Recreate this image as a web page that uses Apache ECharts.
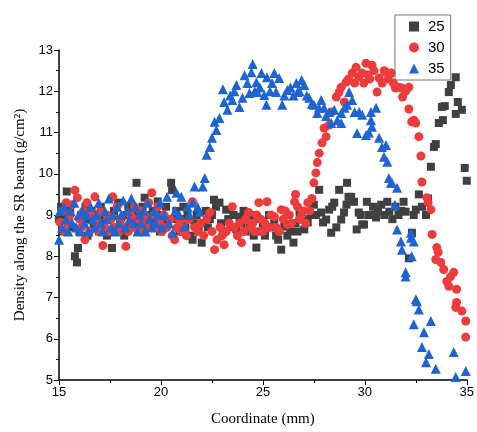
<!DOCTYPE html>
<html>
<head>
<meta charset="utf-8">
<script src="https://cdn.jsdelivr.net/npm/echarts@6/dist/echarts.min.js"></script>
<style>html,body{margin:0;padding:0;background:#fff}#c{width:477px;height:432px}</style>
</head>
<body>
<div id="c"></div>
<script>
var seriesNames = ['25', '30', '35'];
var xTicks = [15, 20, 25, 30, 35];
var yTicks = [5, 6, 7, 8, 9, 10, 11, 12, 13];

var s25 = [
[15.0,8.9],[15.1,9.2],[15.2,8.6],[15.3,9.0],[15.38,9.57],[15.45,8.8],[15.55,9.1],[15.65,8.7],[15.78,8.0],[15.88,7.85],
[15.93,8.2],[16.0,8.6],[16.1,9.0],[16.2,8.8],[16.3,9.2],[16.4,8.5],[16.5,8.9],[16.6,9.1],[16.7,8.7],[16.85,9.0],
[16.95,8.6],[17.05,9.2],[17.15,8.8],[17.25,9.0],[17.35,8.5],[17.45,8.9],[17.6,8.2],[17.7,9.1],[17.8,8.7],[17.9,9.3],
[18.0,8.9],[18.1,8.6],[18.2,8.5],[18.3,9.0],[18.4,9.2],[18.5,8.7],[18.6,9.1],[18.7,8.8],[18.8,9.78],[18.9,9.0],
[19.0,8.6],[19.1,9.2],[19.2,9.42],[19.3,8.8],[19.4,9.0],[19.5,8.7],[19.6,9.1],[19.7,8.9],[19.84,9.33],[19.95,8.6],
[20.05,9.0],[20.15,8.8],[20.25,9.2],[20.35,8.9],[20.5,9.78],[20.55,9.6],[20.65,8.9],[20.75,9.1],[20.9,8.6],[21.0,8.9],
[21.1,9.2],[21.2,8.7],[21.3,9.0],[21.45,8.5],[21.55,8.4],[21.65,8.8],[21.75,9.0],[21.85,8.6],[22.0,8.33],[22.1,8.8],
[22.2,9.1],[22.3,8.7],[22.4,8.9],[22.5,9.0],[22.6,9.37],[22.7,9.2],[22.87,9.3],[22.95,8.8],[23.05,8.6],[23.2,9.13],
[23.3,8.9],[23.45,8.7],[23.55,9.0],[23.7,8.65],[23.85,8.96],[23.95,8.8],[24.05,9.1],[24.15,8.6],[24.25,8.9],[24.35,8.7],
[24.45,9.0],[24.55,8.5],[24.68,8.21],[24.8,8.9],[24.9,8.6],[25.0,8.8],[25.1,8.5],[25.2,8.7],[25.3,9.0],[25.4,8.7],
[25.56,8.89],[25.65,8.5],[25.75,8.4],[25.9,8.16],[26.05,8.72],[26.2,8.5],[26.35,8.6],[26.5,8.33],[26.6,8.8],[26.7,8.6],
[26.8,9.0],[26.9,8.89],[27.03,8.65],[27.1,8.9],[27.2,8.82],[27.37,9.0],[27.5,9.25],[27.6,9.0],[27.76,9.61],[27.86,9.06],
[27.95,8.82],[28.1,8.89],[28.25,9.13],[28.35,8.57],[28.4,9.2],[28.5,9.3],[28.6,8.7],[28.74,9.61],[28.84,8.89],[28.98,9.06],
[29.1,9.25],[29.13,9.78],[29.2,9.44],[29.33,9.44],[29.47,9.32],[29.6,8.65],[29.7,9.06],[29.8,9.0],[29.87,8.77],[29.96,8.77],
[30.1,9.32],[30.2,9.0],[30.3,9.0],[30.4,9.2],[30.55,8.94],[30.65,9.1],[30.8,9.25],[30.95,9.0],[31.1,9.32],[31.2,9.08],
[31.35,8.9],[31.5,9.2],[31.65,9.0],[31.8,9.1],[31.9,9.32],[32.0,9.08],[32.16,7.95],[32.31,8.57],[32.4,9.0],[32.5,9.13],
[32.65,9.5],[32.8,9.2],[33.0,9.0],[33.1,9.4],[33.24,10.17],[33.39,10.65],[33.48,10.72],[33.63,11.23],[33.78,11.62],[33.83,11.30],
[33.92,11.64],[34.12,11.98],[34.22,12.15],[34.46,12.34],[34.46,11.45],[34.56,11.74],[34.76,11.55],[34.9,10.14],[35.0,9.83]
];

var s30 = [
[15.05,8.82],[15.15,9.1],[15.25,8.6],[15.35,9.3],[15.45,8.8],[15.55,9.0],[15.65,9.25],[15.78,9.6],[15.9,9.42],[16.0,8.9],
[16.1,8.7],[16.2,9.1],[16.27,8.4],[16.37,9.3],[16.5,8.6],[16.6,9.0],[16.76,9.44],[16.85,8.8],[16.95,8.6],[17.05,9.1],
[17.15,8.26],[17.25,8.7],[17.35,9.0],[17.45,8.6],[17.55,8.9],[17.64,9.44],[17.75,8.7],[17.85,9.2],[17.95,8.6],[18.05,8.9],
[18.15,8.7],[18.28,8.24],[18.4,8.6],[18.5,9.0],[18.6,8.7],[18.7,9.2],[18.8,8.9],[18.9,8.6],[19.0,9.1],[19.1,8.8],
[19.2,9.0],[19.3,8.7],[19.4,9.3],[19.55,9.54],[19.65,9.0],[19.75,8.7],[19.85,9.2],[19.95,8.8],[20.05,8.6],[20.15,9.0],
[20.3,8.7],[20.45,8.9],[20.55,8.5],[20.67,8.4],[20.8,8.7],[20.9,8.9],[21.0,8.6],[21.1,8.8],[21.25,8.5],[21.4,8.9],
[21.55,9.32],[21.65,8.7],[21.8,8.6],[21.95,8.8],[22.1,8.5],[22.25,8.9],[22.4,9.06],[22.5,8.6],[22.63,8.16],[22.75,8.4],
[22.9,8.7],[23.0,8.5],[23.1,8.28],[23.2,8.6],[23.35,8.8],[23.5,9.2],[23.6,8.7],[23.75,8.5],[23.85,8.8],[23.95,8.33],
[24.05,8.6],[24.15,8.9],[24.3,9.06],[24.4,8.7],[24.5,8.8],[24.6,8.6],[24.7,9.0],[24.8,9.3],[24.9,8.9],[25.0,8.6],
[25.1,8.8],[25.2,9.32],[25.3,8.7],[25.4,9.0],[25.56,8.96],[25.65,8.7],[25.8,8.6],[25.9,9.13],[26.0,8.9],[26.1,9.1],
[26.2,8.77],[26.3,9.0],[26.4,8.8],[26.55,9.32],[26.6,9.5],[26.7,9.2],[26.8,8.9],[26.9,9.0],[27.0,9.1],[27.1,8.8],
[27.2,9.3],[27.3,9.1],[27.4,9.4],[27.5,9.78],[27.6,10.02],[27.67,10.27],[27.76,10.5],[27.9,10.75],[28.0,11.11],[28.1,10.9],
[28.25,11.18],[28.4,11.5],[28.6,11.86],[28.74,11.98],[28.84,12.1],[29.0,11.74],[29.08,12.22],[29.2,12.3],[29.38,12.44],[29.5,12.2],
[29.57,12.58],[29.7,12.35],[29.87,12.44],[29.95,12.2],[30.06,12.68],[30.15,12.4],[30.25,12.3],[30.35,12.63],[30.45,12.5],[30.6,11.98],
[30.7,12.32],[30.85,12.2],[30.95,12.5],[31.04,12.46],[31.15,12.3],[31.3,12.44],[31.4,12.2],[31.5,12.08],[31.65,12.1],[31.8,12.08],
[31.85,11.86],[32.0,12.0],[32.16,12.1],[32.16,11.57],[32.3,11.26],[32.4,11.3],[32.5,11.23],[32.65,10.9],[32.75,10.43],[32.8,9.8],
[33.04,9.42],[33.1,9.3],[33.24,9.13],[33.3,8.53],[33.48,7.92],[33.53,8.21],[33.6,8.1],[33.73,7.85],[33.87,7.68],[34.02,7.39],
[34.12,7.27],[34.2,7.5],[34.36,7.61],[34.5,7.2],[34.5,6.88],[34.46,6.76],[34.76,6.67],[34.95,6.43],[34.95,6.04]
];

var s35 = [
[15.0,8.4],[15.05,9.1],[15.15,8.7],[15.25,9.2],[15.35,8.9],[15.45,8.6],[15.55,9.1],[15.65,8.8],[15.75,9.3],[15.85,8.7],
[15.95,9.0],[16.05,8.6],[16.15,9.1],[16.25,8.8],[16.35,9.0],[16.45,8.6],[16.55,9.2],[16.65,8.9],[16.75,8.7],[16.85,9.0],
[16.95,9.3],[17.05,8.8],[17.15,8.6],[17.25,9.1],[17.35,8.9],[17.45,9.4],[17.55,8.7],[17.65,9.0],[17.75,8.6],[17.85,9.2],
[17.95,8.8],[18.05,9.0],[18.15,9.35],[18.25,8.7],[18.35,9.1],[18.45,8.9],[18.55,9.4],[18.65,8.8],[18.75,9.2],[18.85,8.6],
[18.95,9.0],[19.05,8.8],[19.15,9.1],[19.25,8.6],[19.35,9.3],[19.45,8.9],[19.55,8.7],[19.65,9.1],[19.75,8.8],[19.85,9.0],
[19.95,9.3],[20.05,8.7],[20.15,9.0],[20.3,9.44],[20.4,8.8],[20.58,8.57],[20.7,9.1],[20.77,9.54],[20.9,9.0],[21.0,9.44],
[21.16,8.72],[21.3,9.2],[21.4,9.0],[21.55,9.3],[21.65,9.69],[21.8,9.2],[21.9,9.08],[22.05,9.69],[22.15,9.9],[22.24,10.46],
[22.4,10.65],[22.5,10.87],[22.63,11.26],[22.72,11.06],[22.87,11.35],[23.04,12.05],[23.1,11.74],[23.26,11.55],[23.4,11.9],[23.5,11.79],
[23.6,12.0],[23.7,12.15],[23.85,11.62],[24.0,11.84],[24.1,12.39],[24.24,12.2],[24.34,11.96],[24.44,12.46],[24.5,12.66],[24.6,12.0],
[24.68,12.22],[24.73,11.98],[24.85,12.1],[24.93,12.44],[25.07,11.91],[25.17,11.67],[25.2,12.34],[25.35,12.0],[25.45,12.2],[25.56,12.44],
[25.65,11.98],[25.8,12.32],[25.95,11.67],[26.05,11.9],[26.2,12.03],[26.35,12.1],[26.5,11.9],[26.64,12.2],[26.7,11.98],[26.8,12.0],
[26.9,12.27],[27.03,12.15],[27.15,11.9],[27.27,11.84],[27.4,11.7],[27.5,11.67],[27.67,11.47],[27.75,11.6],[27.86,11.79],[28.0,11.6],
[28.1,11.4],[28.25,11.5],[28.35,11.23],[28.5,11.55],[28.65,11.3],[28.84,11.47],[28.84,11.23],[29.0,11.6],[29.13,11.67],[29.23,11.98],
[29.38,11.79],[29.5,11.5],[29.62,10.99],[29.72,11.5],[29.87,11.43],[30.06,10.94],[30.2,11.0],[30.3,11.3],[30.3,11.5],[30.35,11.14],
[30.55,11.6],[30.7,10.87],[30.84,10.65],[30.94,10.41],[31.04,10.7],[31.1,10.29],[31.18,9.9],[31.28,9.78],[31.33,9.78],[31.48,9.25],
[31.58,9.66],[31.58,8.65],[31.77,8.36],[31.82,8.16],[32.0,7.61],[32.0,7.51],[32.26,8.57],[32.26,8.45],[32.3,8.0],[32.4,8.36],
[32.5,6.96],[32.55,6.91],[32.65,6.71],[32.4,6.35],[32.9,6.16],[33.24,6.43],[32.8,5.8],[33.14,5.63],[33.0,5.43],[33.48,5.27],
[34.36,5.68],[34.46,5.07],[34.95,5.22]
];

var colors = ['#404040', '#ee3b3b', '#1e64d2'];
var chart = echarts.init(document.getElementById('c'), null, {renderer: 'canvas'});
var axisFont = {color: '#000', fontSize: 13, fontFamily: 'Liberation Sans, Arial, sans-serif'};
chart.setOption({
  animation: false,
  backgroundColor: '#fff',
  grid: {left: 59, right: 9, top: 50, bottom: 51, containLabel: false},
  legend: {
    orient: 'vertical',
    left: 395, top: 15,
    itemWidth: 10, itemHeight: 10, itemGap: 6,
    padding: [4, 6, 4, 14],
    borderColor: '#777', borderWidth: 1, borderRadius: 0,
    textStyle: {color: '#000', fontSize: 15, fontFamily: 'Liberation Sans, Arial, sans-serif', padding: [0, 0, 0, 4]},
    data: seriesNames
  },
  xAxis: {
    type: 'value', min: xTicks[0], max: xTicks[xTicks.length - 1], interval: 5,
    name: 'Coordinate (mm)', nameLocation: 'middle', nameGap: 32,
    nameTextStyle: {color: '#000', fontSize: 15, fontFamily: 'Liberation Serif, Times New Roman, serif'},
    axisLine: {lineStyle: {color: '#000', width: 1.5}},
    axisTick: {show: true, length: 5, lineStyle: {color: '#000'}},
    minorTick: {show: true, splitNumber: 2, length: 3, lineStyle: {color: '#000'}},
    splitLine: {show: false},
    axisLabel: Object.assign({margin: 6}, axisFont)
  },
  yAxis: {
    type: 'value', min: yTicks[0], max: yTicks[yTicks.length - 1], interval: 1,
    name: 'Density along the SR beam (g/cm\u00B2)', nameLocation: 'middle', nameGap: 31, nameRotate: 90,
    nameTextStyle: {color: '#000', fontSize: 15, fontFamily: 'Liberation Serif, Times New Roman, serif'},
    axisLine: {show: true, lineStyle: {color: '#000', width: 1.5}},
    axisTick: {show: true, length: 5, lineStyle: {color: '#000'}},
    minorTick: {show: true, splitNumber: 2, length: 3, lineStyle: {color: '#000'}},
    splitLine: {show: false},
    axisLabel: Object.assign({margin: 6}, axisFont)
  },
  series: [
    {name: seriesNames[0], type: 'scatter', symbol: 'rect', symbolSize: 8, data: s25, itemStyle: {color: colors[0], opacity: 1}},
    {name: seriesNames[1], type: 'scatter', symbol: 'circle', symbolSize: 9, data: s30, itemStyle: {color: colors[1], opacity: 1}},
    {name: seriesNames[2], type: 'scatter', symbol: 'triangle', symbolSize: 10, data: s35, itemStyle: {color: colors[2], opacity: 1}}
  ]
});
</script>
</body>
</html>
